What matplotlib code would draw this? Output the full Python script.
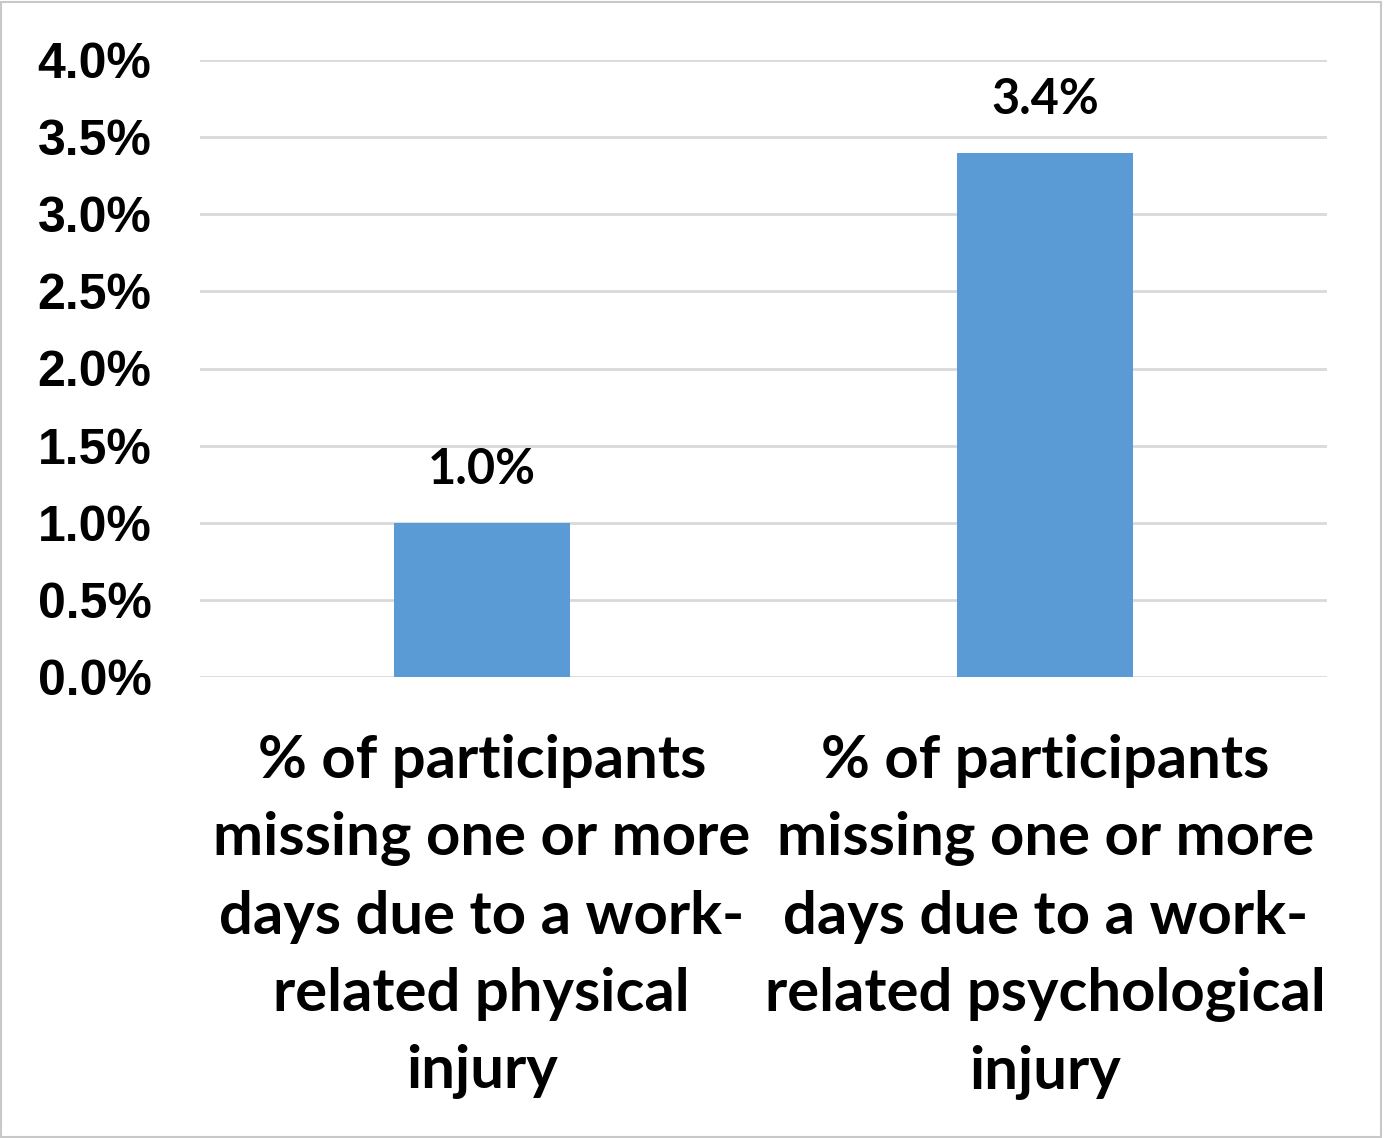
import matplotlib
matplotlib.use("Agg")
import matplotlib.pyplot as plt
from matplotlib.patches import Rectangle

categories = [
    "% of participants\nmissing one or more\ndays due to a work-\nrelated physical\ninjury",
    "% of participants\nmissing one or more\ndays due to a work-\nrelated psychological\ninjury",
]
values = [1.0, 3.4]
yticks = [0.0, 0.5, 1.0, 1.5, 2.0, 2.5, 3.0, 3.5, 4.0]
ytick_labels = [f"{v:.1f}%" for v in yticks]
value_labels = [f"{v:.1f}%" for v in values]

fig = plt.figure(figsize=(13.84, 11.38), dpi=100)
fig.patch.set_facecolor("white")
fig.add_artist(Rectangle((0.001, 0.001), 0.997, 0.997, transform=fig.transFigure,
                         fill=False, edgecolor="#c8c8c8", linewidth=1.5))

ax = fig.add_axes([200/1384, 1-677/1138, 1127/1384, 617/1138])
x = list(range(len(categories)))
bars = ax.bar(x, values, width=0.312, color="#5b9bd5", zorder=3)
ax.set_xlim(-0.5, 1.5)
ax.set_ylim(0, 4.0)
ax.set_yticks(yticks)
ax.set_yticklabels(ytick_labels, fontfamily="Liberation Sans", fontweight="bold", fontsize=36)
ax.grid(axis="y", color="#d9d9d9", linewidth=2, zorder=0)
ax.set_axisbelow(True)
for s in ax.spines.values():
    s.set_visible(False)
ax.tick_params(axis="y", length=0, pad=35)
ax.tick_params(axis="x", length=0, pad=41)
ax.set_xticks(x)
ax.set_xticklabels(categories, fontfamily="Lato", fontweight="bold", fontsize=43,
                   linespacing=1.53, va="top")
for xi, v, lbl in zip(x, values, value_labels):
    ax.annotate(lbl, (xi, v), xytext=(0, 22), textcoords="offset points",
                ha="center", va="bottom", fontfamily="Lato", fontweight="bold", fontsize=35)

fig.savefig("out.png", dpi=100, facecolor="white")
